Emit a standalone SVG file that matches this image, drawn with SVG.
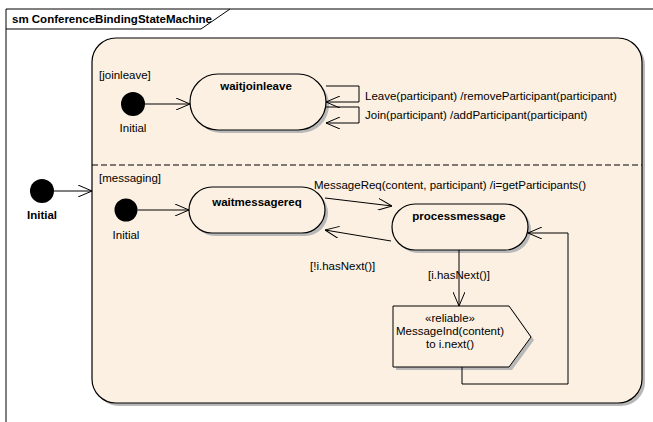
<svg xmlns="http://www.w3.org/2000/svg" width="653" height="422" viewBox="0 0 653 422">
<defs>
<style>
text{font-family:"Liberation Sans",Arial,sans-serif;font-size:11.5px;fill:#000}
.b{font-weight:bold}
.st{fill:#FBF0E2;stroke:#000;stroke-width:1.2}
.sh{fill:#b8b8b8}
.ln{fill:none;stroke:#000;stroke-width:1}
.ini{fill:#000}
</style>
<marker id="ar" viewBox="0 0 14 12" refX="14" refY="6" markerWidth="14" markerHeight="12" markerUnits="userSpaceOnUse" orient="auto">
<path d="M0,0 L14,6 L0,12" fill="none" stroke="#000" stroke-width="1"/>
</marker>
</defs>
<rect width="653" height="422" fill="#fff"/>
<g id="frame">
<path d="M6,422 V9 H653" class="ln" stroke-width="1.3"/>
<path d="M6,29 H201 L230,9" class="ln"/>
<text x="12" y="23" class="b">sm ConferenceBindingStateMachine</text>
</g>
<g id="composite">
<rect x="95" y="41" width="550" height="365" rx="24" class="sh"/>
<rect x="92" y="38" width="550" height="365" rx="24" class="st"/>
<line x1="92" y1="165" x2="642" y2="165" stroke="#000" stroke-width="1" stroke-dasharray="6,3"/>
<text x="99" y="79">[joinleave]</text>
<text x="99" y="182">[messaging]</text>
</g>
<g id="outerInitial">
<circle cx="42" cy="191" r="12" class="ini"/>
<text x="42" y="219" class="b" text-anchor="middle">Initial</text>
</g>
<g id="initialJoin">
<circle cx="133" cy="104" r="12" class="ini"/>
<text x="133" y="132" text-anchor="middle">Initial</text>
</g>
<g id="waitjoinleave">
<rect x="193" y="77" width="136" height="56" rx="28" class="sh"/>
<rect x="190" y="74" width="136" height="56" rx="28" class="st"/>
<text x="256" y="90" class="b" text-anchor="middle">waitjoinleave</text>
</g>
<g id="initialMsg">
<circle cx="126" cy="210" r="11.5" class="ini"/>
<text x="126" y="239" text-anchor="middle">Initial</text>
</g>
<g id="waitmessagereq">
<rect x="192" y="190" width="136" height="46" rx="23" class="sh"/>
<rect x="189" y="187" width="136" height="46" rx="23" class="st"/>
<text x="257" y="206" class="b" text-anchor="middle">waitmessagereq</text>
</g>
<g id="processmessage">
<rect x="395" y="207" width="136" height="46" rx="23" class="sh"/>
<rect x="392" y="204" width="136" height="46" rx="23" class="st"/>
<text x="459" y="220" class="b" text-anchor="middle">processmessage</text>
</g>
<g id="sendsignal">
<path d="M396,309 H512 L534,340 L512,370 H396 Z" class="sh"/>
<path d="M393,306 H509 L531,337 L509,367 H393 Z" fill="#FBF0E2" stroke="#000" stroke-width="1"/>
<text x="450" y="322" text-anchor="middle">«reliable»</text>
<text x="450" y="335" text-anchor="middle">MessageInd(content)</text>
<text x="450" y="348" text-anchor="middle">to i.next()</text>
</g>
<g id="connectors">
<line x1="54" y1="191" x2="92" y2="191" class="ln" marker-end="url(#ar)"/>
<line x1="145" y1="104" x2="190" y2="104" class="ln" marker-end="url(#ar)"/>
<polyline points="326,86 359,86 359,102 326,102" class="ln" marker-end="url(#ar)"/>
<polyline points="326,107 359,107 359,123 326,123" class="ln" marker-end="url(#ar)"/>
<text x="365" y="100">Leave(participant) /removeParticipant(participant)</text>
<text x="365" y="119">Join(participant) /addParticipant(participant)</text>
<line x1="137.5" y1="210" x2="189" y2="210" class="ln" marker-end="url(#ar)"/>
<line x1="325" y1="198" x2="392" y2="206" class="ln" marker-end="url(#ar)"/>
<text x="314" y="189">MessageReq(content, participant) /i=getParticipants()</text>
<line x1="391" y1="241" x2="325" y2="230" class="ln" marker-end="url(#ar)"/>
<text x="310" y="270">[!i.hasNext()]</text>
<line x1="459" y1="250" x2="459" y2="306" class="ln" marker-end="url(#ar)"/>
<text x="428" y="279">[i.hasNext()]</text>
<polyline points="462,367 462,384 568,384 568,233 528,233" class="ln" marker-end="url(#ar)"/>
</g>
</svg>
